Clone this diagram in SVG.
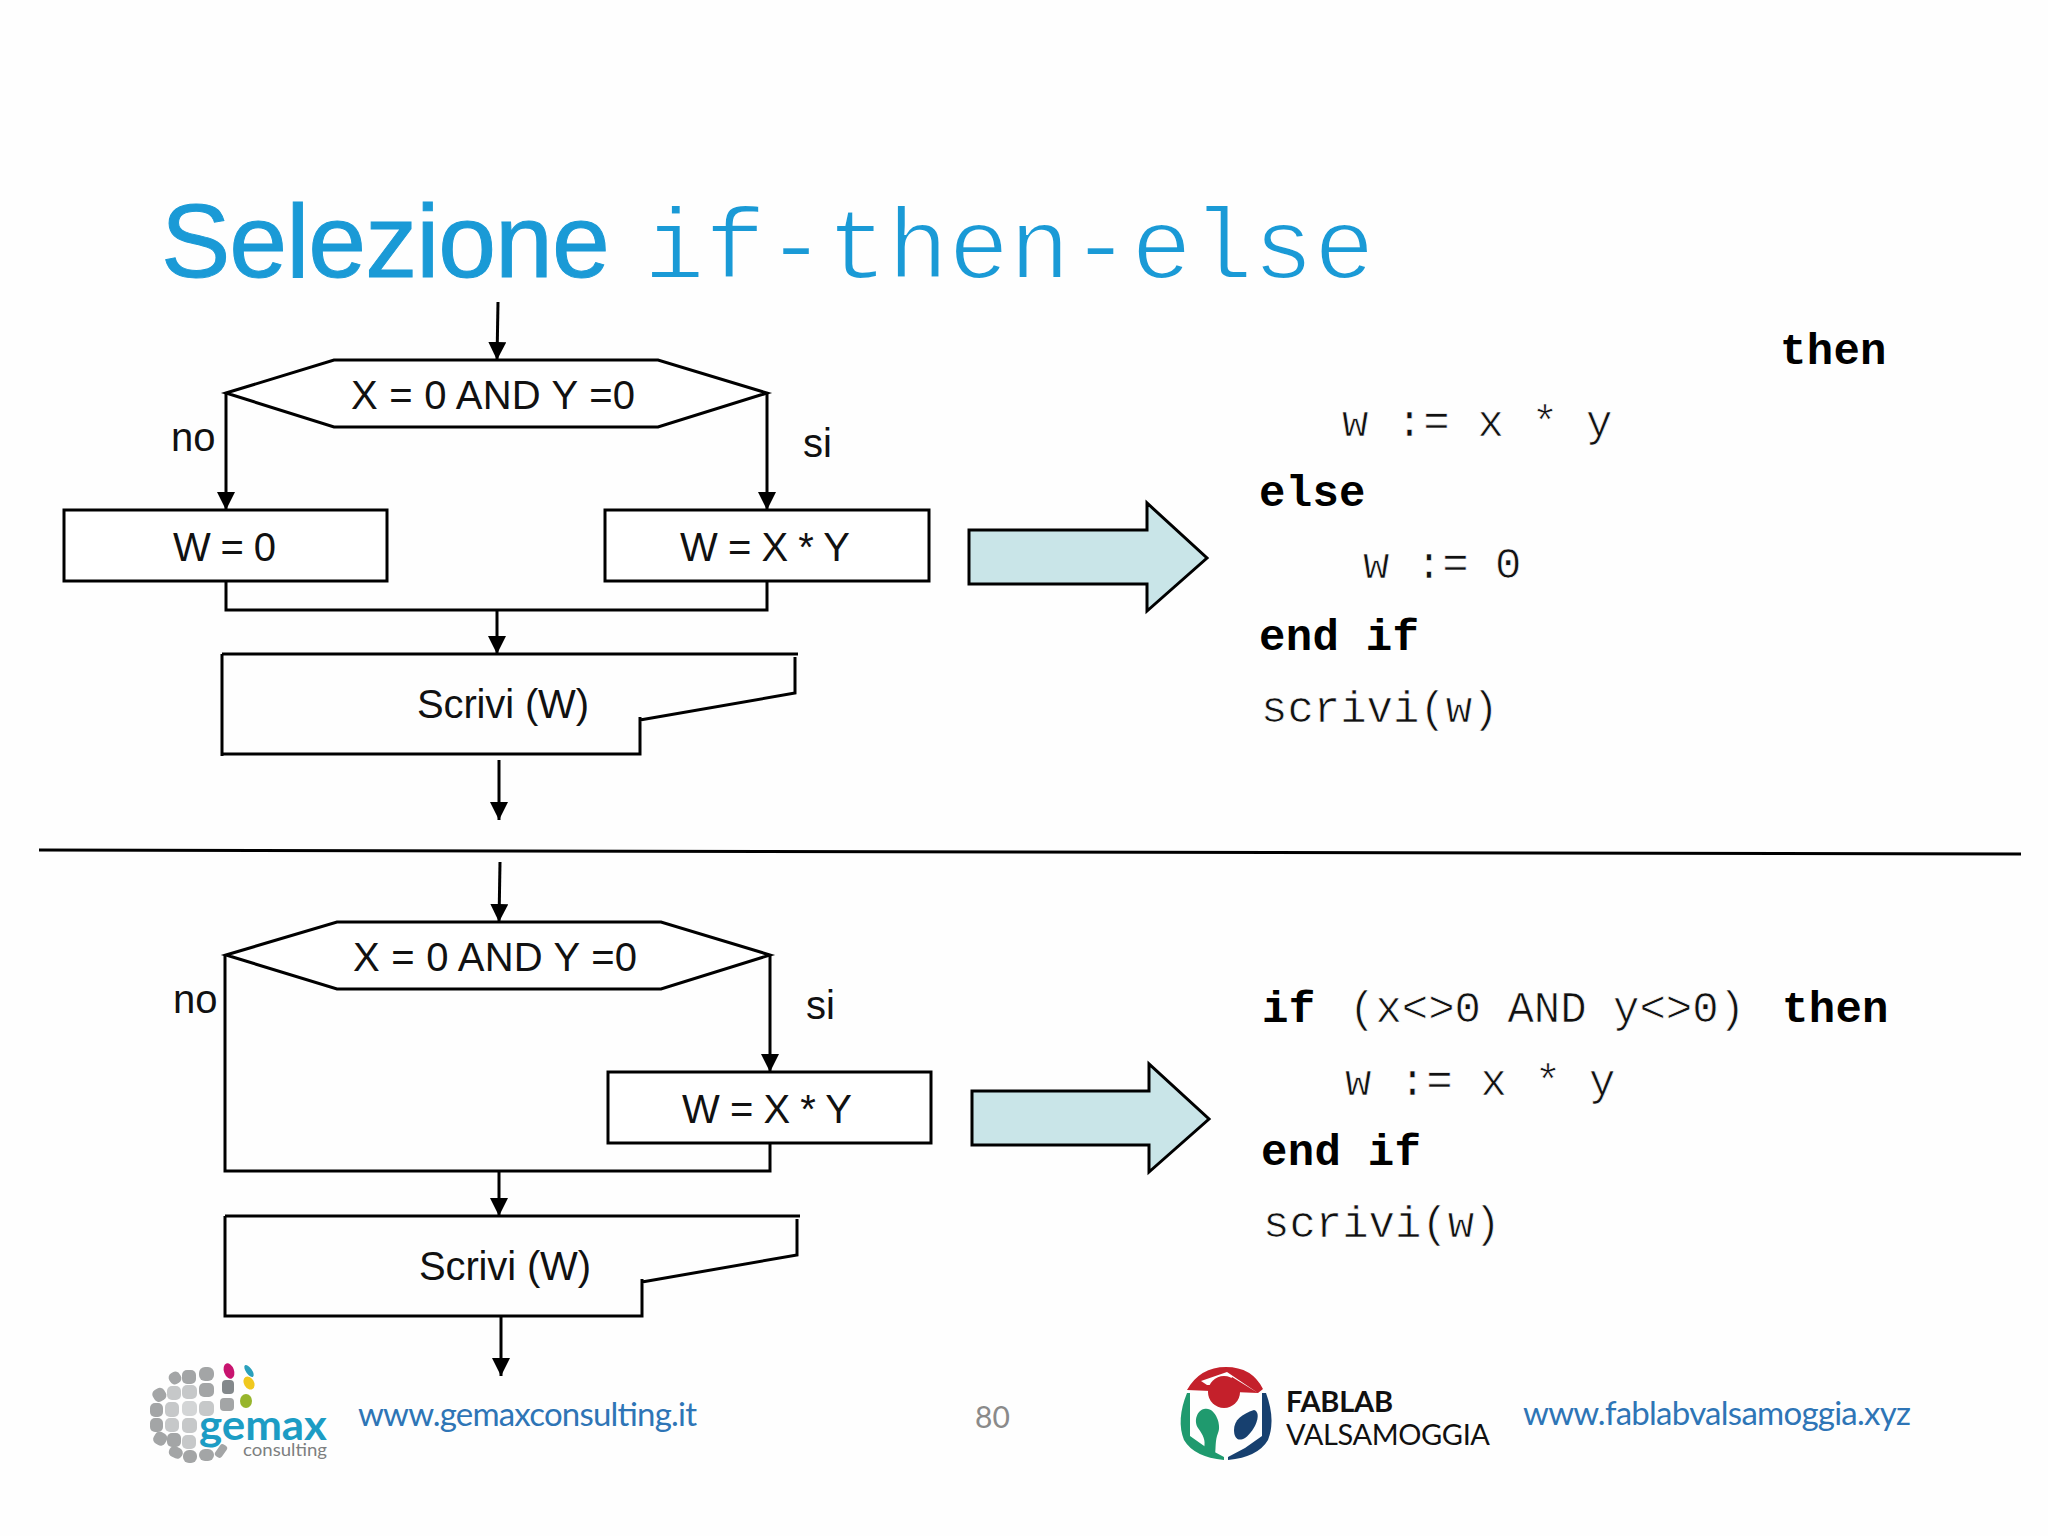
<svg xmlns="http://www.w3.org/2000/svg" width="2048" height="1536" viewBox="0 0 2048 1536">
<style>
.l{fill:none;stroke:#000;stroke-width:3}
.a{marker-end:url(#ah)}
.n{fill:#fff;stroke:#000;stroke-width:3}
.t{font-family:"Liberation Sans",Arial,sans-serif;font-size:40px;fill:#111}
.m{font-family:"Liberation Mono","Courier New",monospace;font-size:44px;fill:#111}
.r{letter-spacing:.7px;stroke:#fefefe;stroke-width:.7px}
.s{letter-spacing:0}
.b{font-weight:700;fill:#000;letter-spacing:.3px}
.u{font-family:Lato,"Open Sans",sans-serif;font-size:33px;fill:#2e75b6}
.big{fill:#c9e5e8;stroke:#000;stroke-width:3}
.tile{fill:#a3a5a6}
.c{fill:#c6c8c9}
</style>
<defs>
<marker id="ah" markerUnits="userSpaceOnUse" markerWidth="20" markerHeight="20" refX="18" refY="9" orient="auto"><path d="M0,0L18,9L0,18Z" fill="#000"/></marker>
</defs>
<rect width="2048" height="1536" fill="#fefefe"/>
<g id="title">
<text x="161" y="277" font-family="Liberation Sans,Arial,sans-serif" font-size="104" letter-spacing="-1" fill="#1a9ad6" stroke="#1a9ad6" stroke-width="1">Selezione</text>
<text x="644" y="278" font-family="Liberation Mono,monospace" font-size="101" letter-spacing=".3" fill="#1a9ad6" stroke="#fefefe" stroke-width="2">if-then-else</text>
</g>
<g id="connectors">
<path class="l a" d="M498,302L497,360"/>
<path class="l a" d="M226,393V510"/>
<path class="l a" d="M767,393V510"/>
<path class="l" d="M226,581V610H767V581"/>
<path class="l a" d="M497,610V654"/>
<path class="l a" d="M499,760V820"/>
<path class="l" d="M39,850L2021,854"/>
<path class="l a" d="M500,862L499,922"/>
<path class="l a" d="M770,955V1072"/>
<path class="l" d="M225,955V1171H770V1143"/>
<path class="l a" d="M499,1171V1216"/>
<path class="l a" d="M501,1316V1376"/>
</g>
<g id="dec1"><path class="n" d="M226,393L334,360H658L767,393L658,427H334Z"/><text class="t" x="351" y="409" textLength="284">X = 0 AND Y =0</text></g>
<g id="lblno1"><text class="t" x="171" y="451">no</text></g>
<g id="lblsi1"><text class="t" x="803" y="457">si</text></g>
<g id="w0"><rect class="n" x="64" y="510" width="323" height="71"/><text class="t" x="173" y="561" textLength="103">W = 0</text></g>
<g id="wxy1"><rect class="n" x="605" y="510" width="324" height="71"/><text class="t" x="680" y="561" textLength="170">W = X * Y</text></g>
<g id="out1"><path class="l" d="M222,654H798M795,657V693L640,720M640,717V754H222M222,654V756"/><text class="t" x="417" y="718" textLength="172">Scrivi (W)</text></g>
<g id="arrow1"><path class="big" d="M969,530H1147V503L1207,558L1147,611V584H969Z"/></g>
<g id="code1">
<text class="m b" x="1780" y="364">then</text>
<text class="m r" x="1342" y="436">w := x * y</text>
<text class="m b" x="1259" y="506">else</text>
<text class="m r s" x="1363" y="578">w := 0</text>
<text class="m b" x="1259" y="650">end if</text>
<text class="m r s" x="1261" y="722">scrivi(w)</text>
</g>
<g id="dec2"><path class="n" d="M226,955L337,922H661L770,955L661,989H337Z"/><text class="t" x="353" y="971" textLength="284">X = 0 AND Y =0</text></g>
<g id="lblno2"><text class="t" x="173" y="1013">no</text></g>
<g id="lblsi2"><text class="t" x="806" y="1019">si</text></g>
<g id="wxy2"><rect class="n" x="608" y="1072" width="323" height="71"/><text class="t" x="682" y="1123" textLength="170">W = X * Y</text></g>
<g id="out2"><path class="l" d="M225,1216H800M797,1219V1255L642,1282M642,1279V1316H225V1216"/><text class="t" x="419" y="1280" textLength="172">Scrivi (W)</text></g>
<g id="arrow2"><path class="big" d="M972,1091H1149V1064L1209,1119L1149,1172V1145H972Z"/></g>
<g id="code2">
<text class="m b" x="1262" y="1022">if</text>
<text class="m r s" x="1349" y="1022">(x&lt;&gt;0 AND y&lt;&gt;0)</text>
<text class="m b" x="1782" y="1022">then</text>
<text class="m r" x="1345" y="1095">w := x * y</text>
<text class="m b" x="1261" y="1165">end if</text>
<text class="m r s" x="1263" y="1237">scrivi(w)</text>
</g>
<g id="gemax-logo">
<rect class="tile" x="169" y="1372" width="12" height="12" rx="5" transform="rotate(-30 175 1378)"/>
<rect class="tile" x="182" y="1370" width="14" height="14" rx="5"/><rect class="tile" x="199" y="1367" width="15" height="14" rx="6"/>
<rect class="tile" x="153" y="1388" width="13" height="13" rx="5" transform="rotate(-30 160 1395)"/><rect class="c" x="167" y="1386" width="14" height="14" rx="5"/><rect class="c" x="182" y="1385" width="15" height="14" rx="5"/><rect class="tile" x="199" y="1383" width="15" height="14" rx="5"/>
<rect class="tile" x="150" y="1403" width="13" height="14" rx="5"/><rect class="c" x="165" y="1402" width="14" height="15" rx="5"/><rect class="c" x="182" y="1401" width="15" height="15" rx="5" style="fill:#d3d5d6"/><rect class="c" x="199" y="1401" width="15" height="15" rx="5"/>
<rect class="tile" x="150" y="1418" width="13" height="14" rx="5"/><rect class="c" x="165" y="1418" width="14" height="14" rx="5"/><rect class="c" x="182" y="1418" width="15" height="15" rx="5"/>
<rect class="tile" x="154" y="1432" width="13" height="13" rx="5" transform="rotate(30 160 1438)"/><rect class="tile" x="167" y="1433" width="14" height="14" rx="5"/><rect class="c" x="182" y="1435" width="14" height="14" rx="5"/>
<rect class="tile" x="169" y="1447" width="14" height="11" rx="5" transform="rotate(25 176 1452)"/><rect class="tile" x="183" y="1450" width="14" height="13" rx="6"/><rect class="tile" x="199" y="1449" width="15" height="12" rx="6"/><rect class="tile" x="217" y="1444" width="8" height="14" rx="3" transform="rotate(35 221 1451)"/>
<ellipse cx="229" cy="1371" rx="5" ry="8" fill="#c8146f" transform="rotate(-20 229 1371)"/><ellipse cx="249" cy="1371" rx="3" ry="7" fill="#2aa0bc" transform="rotate(-35 249 1371)"/><ellipse cx="249" cy="1383" rx="5" ry="7" fill="#f0c81e" transform="rotate(-30 249 1383)"/><ellipse cx="246" cy="1401" rx="6" ry="7" fill="#97b52c"/><rect x="222" y="1380" width="12" height="14" rx="4" fill="#83888b"/><rect class="tile" x="220" y="1398" width="14" height="13" rx="4"/>
<text x="199" y="1440" font-family="Lato,sans-serif" font-size="42" font-weight="700" fill="#1c9cc4" textLength="128" lengthAdjust="spacingAndGlyphs">gemax</text>
<text x="243" y="1456" font-family="Lato,sans-serif" font-size="18" fill="#7d7f80" textLength="84" lengthAdjust="spacingAndGlyphs">consulting</text>
</g>
<g id="urls">
<text class="u" x="358" y="1426" textLength="339">www.gemaxconsulting.it</text>
<text x="975" y="1428" font-family="Lato,sans-serif" font-size="30" fill="#8a8a8a">80</text>
<text class="u" x="1523" y="1425" textLength="388">www.fablabvalsamoggia.xyz</text>
</g>
<g id="fablab-logo">
<path fill="#c4202b" d="M1187,1390Q1200,1367 1226,1367Q1252,1367 1263,1389L1258,1393L1227,1372L1201,1381L1207,1385L1228,1385L1232,1377L1258,1393Z"/>
<circle cx="1224" cy="1392" r="16" fill="#c4202b"/>
<path fill="#1f9a6e" d="M1187,1393Q1176,1420 1184,1440Q1194,1457 1224,1460L1224,1457L1207,1448L1190,1436Q1190,1410 1190,1393Z"/>
<path fill="#1f9a6e" d="M1204,1409C1215,1406 1222,1425 1218,1433C1215,1440 1216,1448 1215,1455L1204,1448C1206,1440 1203,1435 1198,1428C1193,1420 1198,1410 1204,1409Z"/>
<path fill="#17406f" d="M1266,1393Q1276,1420 1268,1440Q1258,1457 1228,1460L1228,1457L1245,1448L1262,1436Q1262,1415 1262,1393Z"/>
<path fill="#17406f" d="M1254,1410C1262,1412 1256,1430 1245,1438C1238,1442 1234,1438 1234,1430C1234,1420 1242,1414 1254,1410Z"/>
<text x="1286" y="1412" font-family="Lato,sans-serif" font-size="29" font-weight="700" fill="#111" textLength="107">FABLAB</text>
<text x="1286" y="1445" font-family="Lato,sans-serif" font-size="29" fill="#111" textLength="204">VALSAMOGGIA</text>
</g>
</svg>
